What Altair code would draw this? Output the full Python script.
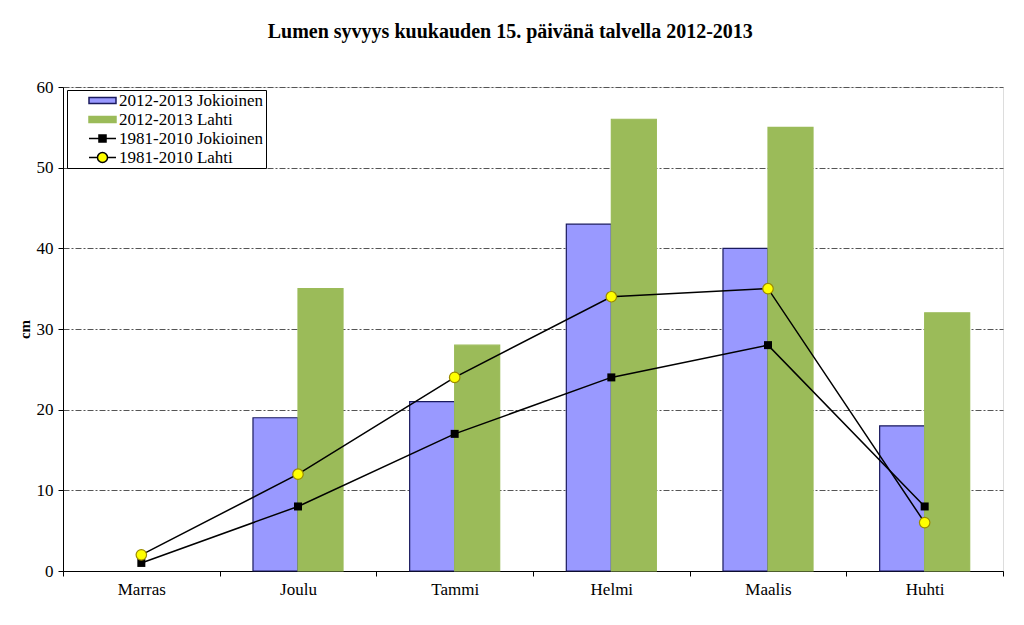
import altair as alt
import pandas as pd

months = ["Marras", "Joulu", "Tammi", "Helmi", "Maalis", "Huhti"]
jok_2013 = [None, 19, 21, 43, 40, 18]
lahti_2013 = [None, 35, 28, 56, 55, 32]
jok_norm = [1, 8, 17, 24, 28, 8]
lahti_norm = [2, 12, 24, 34, 35, 6]

series = ["2012-2013 Jokioinen", "2012-2013 Lahti", "1981-2010 Jokioinen", "1981-2010 Lahti"]

bars = pd.DataFrame({
    "month": months * 2,
    "series": [series[0]] * 6 + [series[1]] * 6,
    "value": jok_2013 + lahti_2013,
})
lines = pd.DataFrame({
    "month": months * 2,
    "series": [series[2]] * 6 + [series[3]] * 6,
    "value": jok_norm + lahti_norm,
})
legend_df = pd.DataFrame({"series": series})

FONT = "Liberation Serif"
BLUE = "#9999FF"
GREEN = "#9BBB59"

fill_scale = alt.Scale(domain=series, range=[BLUE, GREEN, "#000000", "#FFFF00"])
stroke_scale = alt.Scale(domain=series, range=["#1a1a5e", GREEN, "#000000", "#000000"])
shape_scale = alt.Scale(
    domain=series,
    range=[
        "M1.533,-0.4H5.133V0.4H1.533Z",
        "M1.533,-0.4H5.133V0.4H1.533Z",
        "M1.533,0H5.133M2.863,-0.47H3.803V0.47H2.863Z",
        "M1.533,0H2.663A0.67,0.67 0 1 1 4.003,0A0.67,0.67 0 1 1 2.663,0M4.003,0H5.133",
    ],
)

x_enc = alt.X(
    "month:N",
    sort=months,
    scale=alt.Scale(paddingInner=0, paddingOuter=0),
    axis=alt.Axis(
        title=None, labelAngle=0, tickBand="extent", tickSize=5, labelPadding=5,
        labelFont=FONT, labelFontSize=17, labelColor="#000", domainColor="#000",
        tickColor="#000", grid=False,
    ),
)
y_enc = alt.Y(
    "value:Q",
    scale=alt.Scale(domain=[0, 60]),
    axis=alt.Axis(
        title="cm", values=[0, 10, 20, 30, 40, 50, 60], titleFont=FONT, titleFontSize=15,
        titleFontWeight="bold", titleColor="#000", titlePadding=4, labelFont=FONT,
        labelFontSize=17, labelColor="#000", domainColor="#000", tickColor="#000",
        tickSize=5, labelPadding=5, grid=True, gridColor="#555", gridDash=[6, 2, 2, 2],
        gridWidth=1,
    ),
)

bar_layer = alt.Chart(bars).mark_bar(strokeWidth=1.2).encode(
    x=x_enc,
    xOffset=alt.XOffset("series:N", sort=series[:2],
                        scale=alt.Scale(paddingInner=0, paddingOuter=0.74)),
    y=y_enc,
    fill=alt.condition(alt.datum.series == series[0], alt.value(BLUE), alt.value(GREEN)),
    stroke=alt.condition(alt.datum.series == series[0], alt.value("#1a1a5e"), alt.value(GREEN)),
)

line_layer = alt.Chart(lines).mark_line(color="#000", strokeWidth=1.5).encode(
    x=x_enc, y=y_enc, detail="series:N",
)

jok_pts = alt.Chart(lines).transform_filter(
    alt.datum.series == series[2]
).mark_point(shape="square", filled=True, color="#000", size=64, opacity=1).encode(
    x=x_enc, y=y_enc,
)
lahti_pts = alt.Chart(lines).transform_filter(
    alt.datum.series == series[3]
).mark_point(shape="circle", filled=False, fill="#FFFF00", stroke="#9a8a00",
             strokeWidth=1.2, size=110, opacity=1).encode(
    x=x_enc, y=y_enc,
)

legend_layer = alt.Chart(legend_df).mark_point(size=0, filled=True, opacity=1,
                                               strokeWidth=1.5).encode(
    fill=alt.Fill("series:N", scale=fill_scale,
                  legend=alt.Legend(title=None, orient="none", legendX=4, legendY=3,
                                    symbolSize=225, symbolOpacity=1, symbolStrokeWidth=1.5,
                                    labelFont=FONT, labelFontSize=17, labelColor="#000",
                                    strokeColor="#000", fillColor="#fff", padding=2,
                                    rowPadding=1, labelOffset=33, labelLimit=300)),
    stroke=alt.Stroke("series:N", scale=stroke_scale),
    shape=alt.Shape("series:N", scale=shape_scale),
)

chart = alt.layer(bar_layer, line_layer, jok_pts, lahti_pts, legend_layer).properties(
    width=940,
    height=484,
    padding={"top": 14, "left": 9, "right": 5, "bottom": 5},
    title=alt.Title(
        "Lumen syvyys kuukauden 15. päivänä talvella 2012-2013",
        font=FONT, fontSize=20, fontWeight="bold", color="#000", offset=36,
        frame="bounds", anchor="middle",
    ),
).configure_view(stroke="#888", strokeWidth=1).configure(background="#fff")

chart.save("out.html", embed_options={"renderer": "svg", "actions": False})
